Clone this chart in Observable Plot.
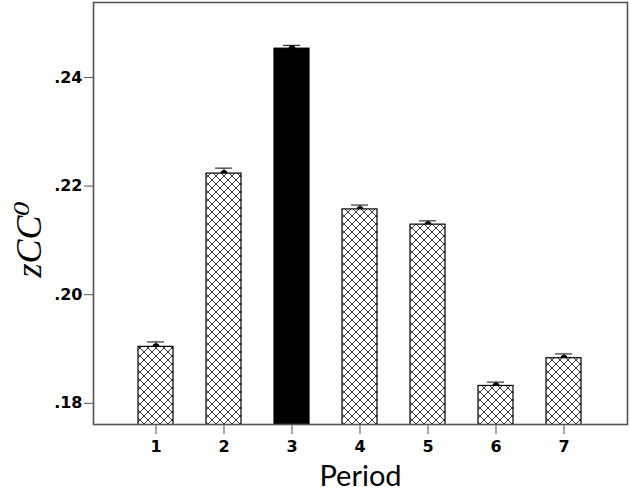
<!DOCTYPE html>
<html>
<head>
<meta charset="utf-8">
<script src="https://cdn.jsdelivr.net/npm/d3@7"></script>
<script src="https://cdn.jsdelivr.net/npm/@observablehq/plot@0.6"></script>
<style>
  html, body { margin: 0; padding: 0; background: #fff; }
</style>
</head>
<body>
<div id="chart"></div>
<script>
// ---- data ----
const periods = [1, 2, 3, 4, 5, 6, 7];
const means   = [0.1904, 0.2223, 0.2453, 0.2157, 0.2129, 0.1832, 0.1883];
const errors  = [0.0009, 0.0010, 0.0006, 0.0008, 0.0007, 0.0007, 0.0008];
const highlightPeriod = 3;
const yTicks = [0.18, 0.20, 0.22, 0.24];
const yDomain = [0.1761, 0.2538];
const yLabel = "zCC\u2070";
const xLabel = "Period";

const data = periods.map((p, i) => ({period: p, value: means[i], err: errors[i]}));
const fmt = v => d3.format(".2f")(v).replace(/^0/, "");

const chart = Plot.plot({
  width: 630,
  height: 493,
  marginTop: 2,
  marginRight: 3,
  marginBottom: 69,
  marginLeft: 93,
  style: {fontFamily: "Liberation Sans, Arial, sans-serif", color: "#000", background: "#fff"},
  x: {type: "band", domain: periods, paddingInner: 0.48, paddingOuter: 0.64},
  y: {domain: yDomain},
  marks: [
    Plot.ruleX(data, {x: "period", y1: d => d.value - d.err, y2: d => d.value + d.err, stroke: "#333", strokeWidth: 1}),
    Plot.tickY(data, {x: "period", y: d => d.value + d.err, stroke: "#333", strokeWidth: 1.2, insetLeft: 9, insetRight: 9}),
    Plot.dot(data, {x: "period", y: "value", r: 3.5, fill: "#000", stroke: "none"}),
    Plot.barY(data, {filter: d => d.period !== highlightPeriod, x: "period", y: "value", fill: "url(#hatch)", stroke: "#000", strokeWidth: 1.2, clip: true}),
    Plot.barY(data, {filter: d => d.period === highlightPeriod, x: "period", y: "value", fill: "#000", stroke: "#000", strokeWidth: 1.2, clip: true}),
    Plot.frame({stroke: "#555", strokeWidth: 1.6}),
    Plot.axisY({ticks: yTicks, tickFormat: fmt, tickSize: 9, tickPadding: 2, fontSize: 16, fontWeight: "bold", fontFamily: "DejaVu Sans, sans-serif", stroke: "#555", label: null}),
    Plot.axisX({tickSize: 10, tickPadding: 6, fontSize: 16, fontWeight: "bold", fontFamily: "DejaVu Sans, sans-serif", stroke: "#555", label: null}),
    Plot.text([yLabel], {frameAnchor: "left", dx: -64, dy: 64, rotate: -90, fontSize: 36, fontStyle: "italic", fontFamily: "Liberation Serif, DejaVu Serif, serif", fill: "#000"}),
    Plot.text([xLabel], {frameAnchor: "bottom", dy: 61, fontSize: 29, fontFamily: "Lato, Open Sans, sans-serif", fill: "#000"})
  ]
});

d3.select(chart).insert("defs", ":first-child").html(
  '<pattern id="hatch" patternUnits="userSpaceOnUse" width="8" height="8">' +
  '<rect width="8" height="8" fill="#fff"/>' +
  '<path d="M0,0L8,8M8,0L0,8" stroke="#222" stroke-width="0.9" fill="none"/>' +
  '</pattern>'
);

document.getElementById("chart").appendChild(chart);
</script>
</body>
</html>
